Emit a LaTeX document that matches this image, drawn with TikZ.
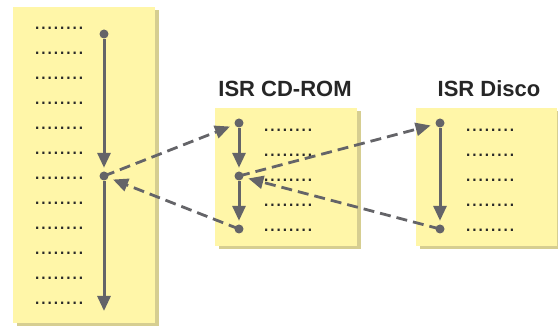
\documentclass[tikz,border=0pt]{standalone}
\usepackage{fontspec}
\setmainfont{Liberation Sans}
\usetikzlibrary{arrows.meta}
\definecolor{boxfill}{RGB}{255,246,168}
\definecolor{boxshadow}{RGB}{214,206,145}
\definecolor{arrgray}{RGB}{100,100,104}
\definecolor{dotcol}{RGB}{40,40,40}
\tikzset{
  x=1pt, y=-1pt,
  panel/.style={fill=boxfill, draw=none},
  panelshadow/.style={fill=boxshadow, draw=none},
  pt/.style={circle, fill=arrgray, inner sep=0pt, minimum size=9pt},
  dotrow/.style={anchor=base west, inner sep=0pt, text=dotcol, font=\fontsize{22.5}{24}\selectfont},
  title/.style={anchor=base, inner sep=0pt, font=\fontsize{22}{24}\selectfont\bfseries, text=black!85},
  flow/.style={draw=arrgray, line width=3pt, -{Triangle[length=15pt,width=13pt]}, shorten >=3.5pt},
  jump/.style={draw=arrgray, line width=2.8pt, dash pattern=on 11pt off 6pt, -{Triangle[length=15pt,width=13pt]}, shorten >=5pt},
}
\begin{document}
\begin{tikzpicture}
\useasboundingbox (0,0) rectangle (558,328);
% panels with shadows
\fill[panelshadow] (16.5,10.5) rectangle (158.5,326.5);
\fill[panel] (13,7) rectangle (155,323);
\fill[panelshadow] (218.5,111.5) rectangle (360.5,249.5);
\fill[panel] (215,108) rectangle (357,246);
\fill[panelshadow] (419.5,111.5) rectangle (560.5,249.5);
\fill[panel] (416,108) rectangle (557,246);
% titles
\node[title] (tcd) at (285,97) {ISR CD-ROM};
\node[title] (tdisco) at (489,97) {ISR Disco};
% dotted rows
\foreach \i in {0,...,11}{
  \node[dotrow] (l\i) at (34,{30+25*\i}) {........};
}
\foreach \i in {0,...,4}{
  \node[dotrow] (c\i) at (263,{132+25*\i}) {........};
  \node[dotrow] (d\i) at (465,{132+25*\i}) {........};
}
% points
\node[pt] (La) at (104,34) {};
\node[pt] (Lb) at (104,176) {};
\coordinate (Lend) at (104,311);
\node[pt] (Ca) at (239,123) {};
\node[pt] (Cb) at (239,176) {};
\node[pt] (Cc) at (239,229) {};
\node[pt] (Da) at (440,123) {};
\node[pt] (Db) at (440,229) {};
% solid flow
\draw[flow] (La) -- (Lb);
\draw[flow, shorten >=0pt] (Lb) -- (Lend);
\draw[flow] (Ca) -- (Cb);
\draw[flow] (Cb) -- (Cc);
\draw[flow] (Da) -- (Db);
% dashed jumps
\draw[jump] (Lb.center) -- (Ca);
\draw[jump] (Cb.center) -- (Da);
\draw[jump] (Db.center) -- (Cb);
\draw[jump] (Cc.center) -- (Lb);
\end{tikzpicture}
\end{document}
